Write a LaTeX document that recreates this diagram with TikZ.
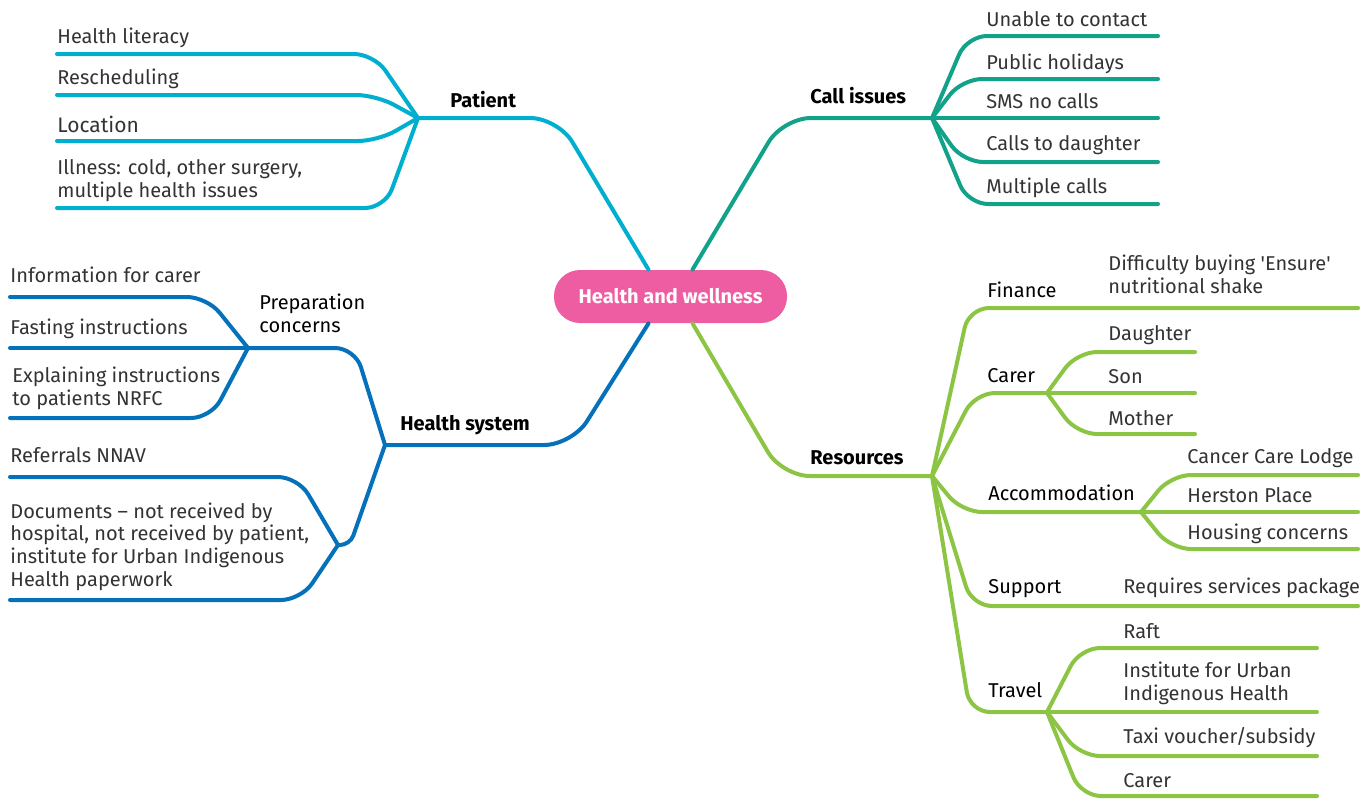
\documentclass[tikz,border=0pt]{standalone}
\usepackage{fontspec}
\setmainfont{Fira Sans}
\usepackage{tikz}
\definecolor{patcol}{HTML}{00AFCF}
\definecolor{callcol}{HTML}{12A28A}
\definecolor{syscol}{HTML}{0571BB}
\definecolor{rescol}{HTML}{8CC443}
\definecolor{hubcol}{HTML}{EE5DA1}

\begin{document}
\fontsize{10}{11.3}\selectfont
\begin{tikzpicture}[x=0.5pt, y=-0.5pt, line cap=round, line join=round,
  limb/.style={line width=2pt, rounded corners=14pt},
  twig/.style={line width=2pt, rounded corners=10pt},
  hub/.style={fill=hubcol, text=white, font=\bfseries, rounded corners=13pt,
    minimum width=116.5pt, minimum height=26.5pt, inner sep=0pt},
  topic/.style={anchor=base west, inner sep=0pt, font=\bfseries},
  sub/.style={anchor=base west, inner sep=0pt, align=left},
  leaf/.style={anchor=base west, inner sep=0pt, align=left, text=black!80}]
  \useasboundingbox (0,0) rectangle (1363,798);
  \node[hub] (hub) at (670.5,296.5) {Health and wellness};

  \coordinate (patfork) at (418,118);
  \draw[limb, patcol] ([xshift=-11pt]hub.north) -- (558,118) -- (patfork);
  \node[topic] (patient) at (450,107) {Patient};
  \node[leaf] (literacy) at (57,43) {Health literacy};
  \node[leaf] (resched) at (57,84) {Rescheduling};
  \node[leaf, font=\fontsize{10.5}{12}\selectfont] (location) at (57,132) {Location};
  \node[leaf] (illness) at (57,197) {Illness: cold, other surgery,\\multiple health issues};
  \draw[twig, patcol] (patfork) -- (374,54) -- (57,54);
  \draw[twig, patcol] (patfork) -- (376,95) -- (57,95);
  \draw[twig, patcol] (patfork) -- (378,141) -- (57,141);
  \draw[twig, patcol] (patfork) -- (385,208) -- (57,208);

  \coordinate (callfork) at (932,118);
  \draw[limb, callcol] ([xshift=11pt]hub.north) -- (783,118) -- (callfork);
  \node[topic] (callissues) at (810,103) {Call issues};
  \node[leaf] (unable) at (986,26) {Unable to contact};
  \node[leaf] (holidays) at (986,69) {Public holidays};
  \node[leaf] (sms) at (986,108) {SMS no calls};
  \node[leaf] (daughtercalls) at (986,150) {Calls to daughter};
  \node[leaf] (multiple) at (986,193) {Multiple calls};
  \draw[twig, callcol] (callfork) -- (967,36) -- (1158,36);
  \draw[twig, callcol] (callfork) -- (962,79) -- (1158,79);
  \draw[twig, callcol] (callfork) -- (1158,118);
  \draw[twig, callcol] (callfork) -- (963,162) -- (1158,162);
  \draw[twig, callcol] (callfork) -- (968,204) -- (1158,204);

  \coordinate (sysfork) at (385,445);
  \coordinate (prepfork) at (248,348);
  \coordinate (docfork) at (338,545);
  \draw[limb, syscol] ([xshift=-11pt]hub.south) -- (572,445) -- (sysfork);
  \node[topic] (healthsys) at (400,430) {Health system};
  \draw[twig, syscol] (sysfork) -- (355,348) -- (prepfork);
  \node[sub] (prep) at (259,332) {Preparation\\concerns};
  \node[leaf] (info) at (10,282) {Information for carer};
  \node[leaf] (fasting) at (10,334) {Fasting instructions};
  \node[leaf] (explain) at (12,405) {Explaining instructions\\to patients NRFC};
  \draw[twig, syscol] (prepfork) -- (207,297) -- (10,297);
  \draw[twig, syscol] (prepfork) -- (10,348);
  \draw[twig, syscol] (prepfork) -- (211,418) -- (10,418);
  \draw[syscol, line width=2pt, rounded corners=5pt] (sysfork) -- (350,545) -- (docfork);
  \node[leaf] (referrals) at (10,462) {Referrals NNAV};
  \node[leaf] (documents) at (10,586) {Documents -- not received by\\hospital, not received by patient,\\institute for Urban Indigenous\\Health paperwork};
  \draw[twig, syscol] (docfork) -- (298,477) -- (10,477);
  \draw[twig, syscol] (docfork) -- (301,600) -- (10,600);

  \coordinate (resfork) at (932,476);
  \coordinate (carerfork) at (1047,393);
  \coordinate (accfork) at (1141,512);
  \coordinate (travelfork) at (1047,712);
  \draw[limb, rescol] ([xshift=11pt]hub.south) -- (782,476) -- (resfork);
  \node[topic] (resources) at (810,464) {Resources};
  \node[sub] (finance) at (987,297) {Finance};
  \node[leaf] (ensure) at (1108,293) {Difficulty buying \textquotesingle Ensure\textquotesingle\\nutritional shake};
  \draw[twig, rescol] (resfork) -- (969,308) -- (1358,308);
  \node[sub] (carer) at (987,382) {Carer};
  \draw[twig, rescol] (resfork) -- (975,393) -- (carerfork);
  \node[leaf] (daughter) at (1108,340) {Daughter};
  \node[leaf] (son) at (1108,383) {Son};
  \node[leaf] (mother) at (1108,425) {Mother};
  \draw[twig, rescol] (carerfork) -- (1077,352) -- (1195,352);
  \draw[twig, rescol] (carerfork) -- (1195,393);
  \draw[twig, rescol] (carerfork) -- (1077,434) -- (1195,434);
  \node[sub] (accom) at (988,500) {Accommodation};
  \draw[twig, rescol] (resfork) -- (962,512) -- (accfork);
  \node[leaf] (lodge) at (1187,463) {Cancer Care Lodge};
  \node[leaf] (herston) at (1187,502) {Herston Place};
  \node[leaf] (housing) at (1187,539) {Housing concerns};
  \draw[twig, rescol] (accfork) -- (1171,475) -- (1358,475);
  \draw[twig, rescol] (accfork) -- (1358,512);
  \draw[twig, rescol] (accfork) -- (1171,549) -- (1358,549);
  \node[sub] (support) at (988,593) {Support};
  \node[leaf] (package) at (1123,593) {Requires services package};
  \draw[twig, rescol] (resfork) -- (972,606) -- (1358,606);
  \node[sub] (travel) at (988,697) {Travel};
  \draw[twig, rescol] (resfork) -- (970,712) -- (travelfork);
  \node[leaf] (raft) at (1123,638) {Raft};
  \node[leaf] (institute) at (1123,700) {Institute for Urban\\Indigenous Health};
  \node[leaf] (taxi) at (1123,743) {Taxi voucher/subsidy};
  \node[leaf] (carertravel) at (1123,787) {Carer};
  \draw[twig, rescol] (travelfork) -- (1080,648) -- (1317,648);
  \draw[twig, rescol] (travelfork) -- (1317,712);
  \draw[twig, rescol] (travelfork) -- (1080,756) -- (1317,756);
  \draw[twig, rescol] (travelfork) -- (1081,796) -- (1317,796);
\end{tikzpicture}
\end{document}
